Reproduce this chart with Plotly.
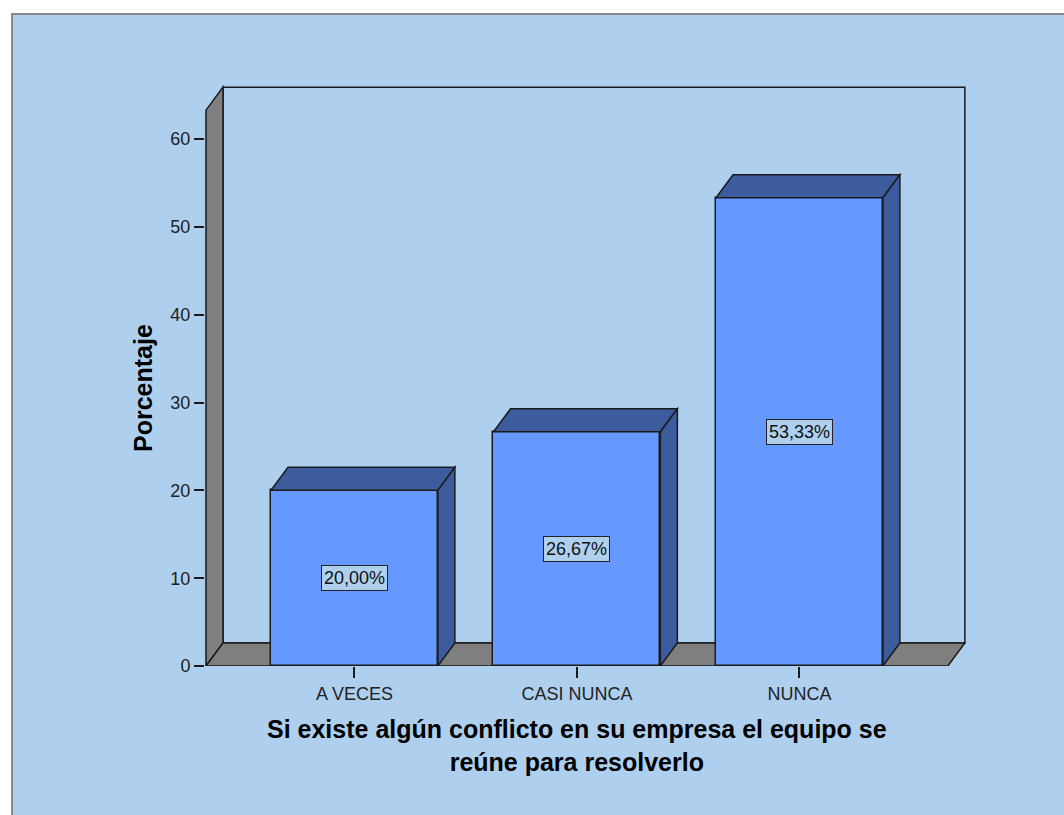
import plotly.graph_objects as go

# Frequency table: percentage of answers per category
categories = ["A VECES", "CASI NUNCA", "NUNCA"]
percentages = [20.00, 26.67, 53.33]
y_ticks = [0, 10, 20, 30, 40, 50, 60]

x_title = "Si existe algún conflicto en su empresa el equipo se<br>reúne para resolverlo"
y_title = "Porcentaje"

# Styling
BG = "#AED0EE"
BAR_FRONT = "#6699FF"
BAR_DARK = "#3D5C9E"
WALL_GRAY = "#7F7F7F"
EDGE = "#1A1A1A"
FONT = "Liberation Sans, Arial, sans-serif"

# Pseudo-3D depth offset, expressed in axis units
DX = 0.0764      # category units
DY = 2.62        # percentage units
BAR_W = 0.75
X0, X1 = -0.667, 2.667     # front floor extent
WALL_TOP = 63.3            # front height of the side wall

x_pos = list(range(len(categories)))

fig = go.Figure()

fig.add_trace(go.Bar(
    x=x_pos, y=percentages, width=BAR_W,
    marker=dict(color=BAR_FRONT, line=dict(color=EDGE, width=1.5)),
    hoverinfo="skip", showlegend=False,
))


def poly(points, fill, layer="above", width=1.5):
    path = "M " + " L ".join(f"{x},{y}" for x, y in points) + " Z"
    return dict(type="path", path=path, xref="x", yref="y",
                fillcolor=fill, line=dict(color=EDGE, width=width), layer=layer)


shapes = []
# outer chart frame
shapes.append(dict(type="rect", xref="paper", yref="paper",
                   x0=-0.2526, x1=1.3, y0=-0.4, y1=1.1088,
                   fillcolor=BG, line=dict(color="#8A8A8A", width=2), layer="below"))
# back wall
shapes.append(poly([(X0 + DX, DY), (X1 + DX, DY), (X1 + DX, WALL_TOP + DY), (X0 + DX, WALL_TOP + DY)],
                   BG, layer="below"))
# left wall
shapes.append(poly([(X0, 0), (X0, WALL_TOP), (X0 + DX, WALL_TOP + DY), (X0 + DX, DY)],
                   WALL_GRAY, layer="below"))
# floor
shapes.append(poly([(X0, 0), (X1, 0), (X1 + DX, DY), (X0 + DX, DY)],
                   WALL_GRAY, layer="below"))

# top and side faces of each bar
for xi, v in zip(x_pos, percentages):
    left, right = xi - BAR_W / 2, xi + BAR_W / 2
    shapes.append(poly([(left, v), (right, v), (right + DX, v + DY), (left + DX, v + DY)], BAR_DARK))
    shapes.append(poly([(right, 0), (right, v), (right + DX, v + DY), (right + DX, DY)], BAR_DARK))

annotations = []
for xi, v in zip(x_pos, percentages):
    annotations.append(dict(
        x=xi, y=v / 2, xref="x", yref="y",
        text=f"{v:.2f}%".replace(".", ","), showarrow=False,
        font=dict(family=FONT, size=18, color="#111111"),
        bgcolor=BG, bordercolor="#222222", borderwidth=1, borderpad=2,
    ))

annotations.append(dict(
    x=-0.0812, y=WALL_TOP / 2, xref="paper", yref="y", text=f"<b>{y_title}</b>",
    textangle=-90, showarrow=False, font=dict(family=FONT, size=25, color="#000000"),
    xanchor="center", yanchor="middle",
))
annotations.append(dict(
    x=0.4869, y=-0.1344, xref="paper", yref="paper", text=f"<b>{x_title}</b>",
    showarrow=False, font=dict(family=FONT, size=25, color="#000000"),
    yanchor="middle", xanchor="center",
))

fig.update_layout(
    width=1064, height=815,
    margin=dict(l=205, r=95, t=78, b=149, pad=0),
    paper_bgcolor="white", plot_bgcolor="rgba(0,0,0,0)",
    shapes=shapes, annotations=annotations,
    xaxis=dict(range=[X0 - 0.0045, 2.762], tickvals=x_pos, ticktext=categories,
               ticks="outside", ticklen=11, tickwidth=1.5, tickcolor=EDGE,
               tickfont=dict(family=FONT, size=18, color="#222222"),
               showgrid=False, zeroline=False, showline=False),
    yaxis=dict(range=[0, 66.96], tickvals=y_ticks,
               ticks="outside", ticklen=10, tickwidth=1.5, tickcolor=EDGE,
               tickfont=dict(family=FONT, size=18, color="#222222"),
               showgrid=False, zeroline=False, showline=False),
    bargap=0,
)

fig.write_html("out.html")
